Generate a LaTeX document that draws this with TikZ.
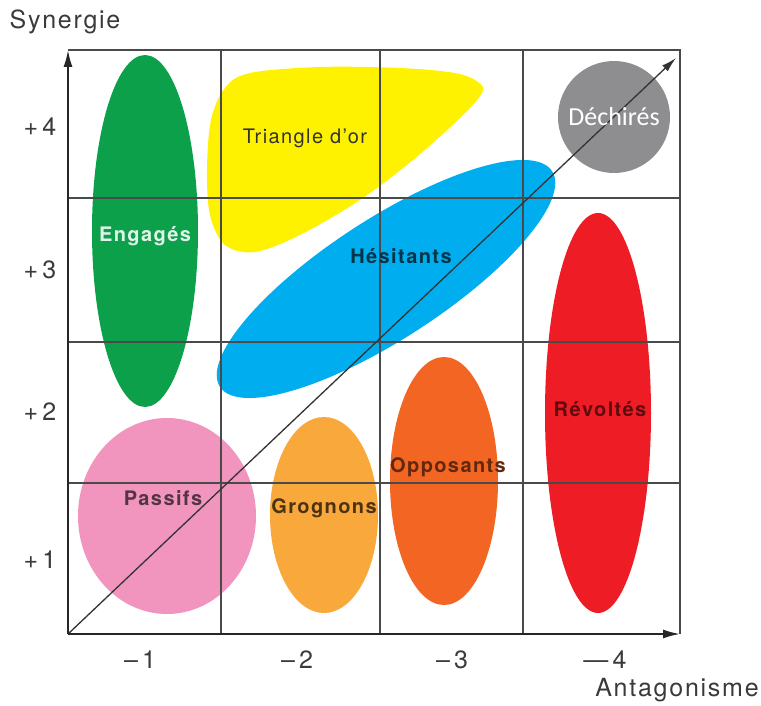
\documentclass[tikz,border=0pt]{standalone}
\usepackage{fontspec}
\setmainfont{TeX Gyre Heros}[LetterSpace=7]
\newfontfamily\calibrifont{Carlito}
\usetikzlibrary{arrows.meta}
\definecolor{engageGreen}{HTML}{0DA04B}
\definecolor{goldYellow}{HTML}{FFF200}
\definecolor{hesitBlue}{HTML}{00AEEF}
\definecolor{tornGray}{HTML}{8E8E90}
\definecolor{revoltRed}{HTML}{EE1C25}
\definecolor{opposOrange}{HTML}{F26522}
\definecolor{grognOrange}{HTML}{F9A83C}
\definecolor{passPink}{HTML}{F195BF}
\definecolor{gridGray}{HTML}{4A4A4A}
\definecolor{inkGray}{HTML}{3A3A3A}

\begin{document}
\begin{tikzpicture}[x=1pt, y=-1pt,
          gridline/.style={draw=gridGray, line width=1.3pt},
          axis/.style={draw=black!85, line width=1.8pt, -{Latex[length=17pt, width=9pt]}},
          tick/.style={font=\fontsize{25}{25}\selectfont, text=inkGray},
          title/.style={font=\fontsize{25}{25}\selectfont, text=inkGray},
          tag/.style={font=\fontsize{20}{20}\selectfont\bfseries},
          thin tag/.style={font=\fontsize{20}{20}\selectfont}]
        \useasboundingbox (0,0) rectangle (761,706);
        % zones
        \fill[engageGreen] (145,231) ellipse [x radius=53pt, y radius=176pt];
        \fill[goldYellow] plot[smooth cycle, tension=0.55] coordinates {(482,93) (460,118) (413,160) (360,200) (300,235) (255,252) (225,245) (210,215) (207,170) (211,120) (225,88) (250,73) (320,67) (400,68) (455,73) (478,82)};
        \fill[hesitBlue, rotate around={33:(386,279)}] (386,279) ellipse [x radius=198pt, y radius=60pt];
        \fill[tornGray] (614,117) circle [radius=56pt];
        \fill[revoltRed] (598,413) ellipse [x radius=53pt, y radius=200pt];
        \fill[opposOrange] (444,481) ellipse [x radius=54pt, y radius=124pt];
        \fill[grognOrange] (324,515) ellipse [x radius=54pt, y radius=98pt];
        \fill[passPink] (167,516) ellipse [x radius=89pt, y radius=98pt];
        % grid
        \coordinate (O) at (68,634);
        \coordinate (top) at (68,50);
        \coordinate (right) at (680,634);
        \coordinate (corner) at (680,50);
        \coordinate (tip) at (676,58);
        \foreach \gx in {221,380,523} { \draw[gridline] (\gx,50) -- (\gx,634); }
        \foreach \gy in {198,342,483} { \draw[gridline] (68,\gy) -- (680,\gy); }
        \draw[gridline] (top) -- (corner) -- (right);
        \draw[line width=1.3pt, black!80, -{Latex[length=15pt, width=8pt]}] (O) -- (tip);
        \draw[axis] (O) -- (top);
        \draw[axis] (O) -- (right);
        % axis labels
        \node[title] (syn) at (65,22) {Synergie};
        \node[title] (ant) at (677,690) {Antagonisme};
        \node[tick] (y4) at (40,127) {+\,4};
        \node[tick] (y3) at (40,270) {+\,3};
        \node[tick] (y2) at (40,412) {+\,2};
        \node[tick] (y1) at (40,560) {+\,1};
        \node[tick] (x1) at (140,660) {–\,1};
        \node[tick] (x2) at (297,660) {–\,2};
        \node[tick] (x3) at (452,660) {–\,3};
        \node[tick] (x4) at (605,660) {—\,4};
        % zone names
        \node[tag, text=engageGreen!12!white] (engages) at (145,236) {Engagés};
        \node[thin tag, text=black!80] (triangle) at (305,138) {Triangle d’or};
        \node[tag, text=hesitBlue!30!black] (hesitants) at (401,256) {Hésitants};
        \node[font=\calibrifont\fontsize{26}{26}\selectfont, text=white] (dechires) at (614,117) {Déchirés};
        \node[tag, text=revoltRed!40!black] (revoltes) at (600,409) {Révoltés};
        \node[tag, text=opposOrange!40!black] (opposants) at (448,467) {Opposants};
        \node[tag, text=grognOrange!30!black] (grognons) at (324,508) {Grognons};
        \node[tag, text=passPink!35!black] (passifs) at (163,498) {Passifs};
      \end{tikzpicture}
\end{document}
